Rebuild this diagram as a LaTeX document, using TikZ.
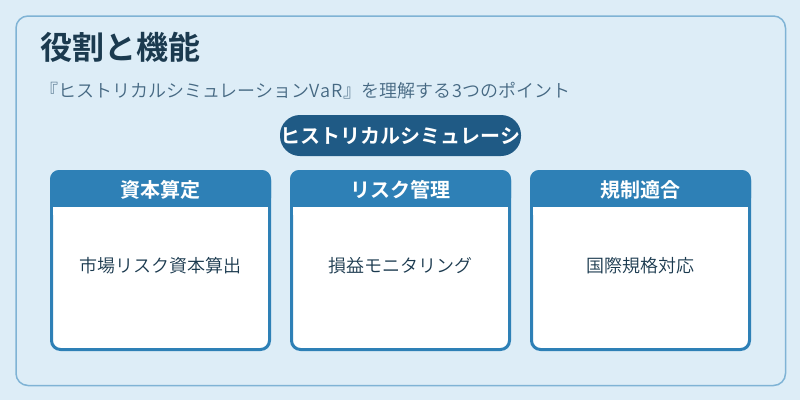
\documentclass[tikz,border=0pt]{standalone}
\usepackage{fontspec}
\setmainfont{Noto Sans CJK JP DemiLight}[BoldFont={Noto Sans CJK JP Bold}]
\definecolor{pagebg}{HTML}{DDEDF7}
\definecolor{frameline}{HTML}{7FB3D5}
\definecolor{deepblue}{HTML}{1F5A85}
\definecolor{midblue}{HTML}{2E80B6}
\definecolor{titleink}{HTML}{1B3A4F}
\definecolor{subink}{HTML}{456882}
\definecolor{bodyink}{HTML}{1B3A4F}
\tikzset{
  x=1pt,y=-1pt,
  frame/.style={draw=frameline,line width=1.5pt,rounded corners=12pt},
  cardbody/.style={draw=midblue,fill=white,line width=3pt,rounded corners=9pt},
  cardhead/.style={fill=midblue,rounded corners=9pt},
  txt/.style={inner sep=0pt,outer sep=0pt,align=center},
  titletxt/.style={txt,anchor=west,text=titleink,font=\fontsize{32}{36}\selectfont\bfseries},
  subtxt/.style={txt,anchor=west,text=subink,font=\fontsize{18}{22}\selectfont},
  pilltxt/.style={txt,text=white,font=\fontsize{20}{24}\selectfont\bfseries},
  headtxt/.style={txt,text=white,font=\fontsize{20}{24}\selectfont\bfseries},
  bodytxt/.style={txt,text=bodyink,font=\fontsize{18}{22}\selectfont},
}
\newcommand{\mycard}[4]{%
  \draw[cardbody] (#1+1.5,171.5) rectangle (#1+219.5,349.5);
  \fill[cardhead] (#1,207) -- (#1,170) -- (#1+221,170) -- (#1+221,207) -- cycle;
  \fill[midblue] (#1,195) rectangle (#1+221,207);
  \fill[white] (#1+3,207) rectangle (#1+218,215);
  \node[headtxt] (head#2) at (#1+110.5,189.5) {#3};
  \node[bodytxt] (body#2) at (#1+110.5,266) {#4};
}
\begin{document}
\begin{tikzpicture}
\useasboundingbox (0,0) rectangle (800,400);
\fill[pagebg] (0,0) rectangle (800,400);
\draw[frame] (16,16) rectangle (785.5,385.5);
\node[titletxt] (title) at (40,47) {役割と機能};
\node[subtxt] (subtitle) at (40,90.5) {『ヒストリカルシミュレーションV\kern1pt a\kern1pt R\kern1pt 』を理解する\kern1pt 3つのポイント};
\fill[deepblue,rounded corners=20pt] (280,115) rectangle (521,156);
\node[pilltxt] (pill) at (400.5,136) {ヒストリカルシミュレーシ};
\mycard{50}{a}{資本算定}{市場リスク資本算出}
\mycard{290}{b}{リスク管理}{損益モニタリング}
\mycard{530}{c}{規制適合}{国際規格対応}
\end{tikzpicture}
\end{document}
